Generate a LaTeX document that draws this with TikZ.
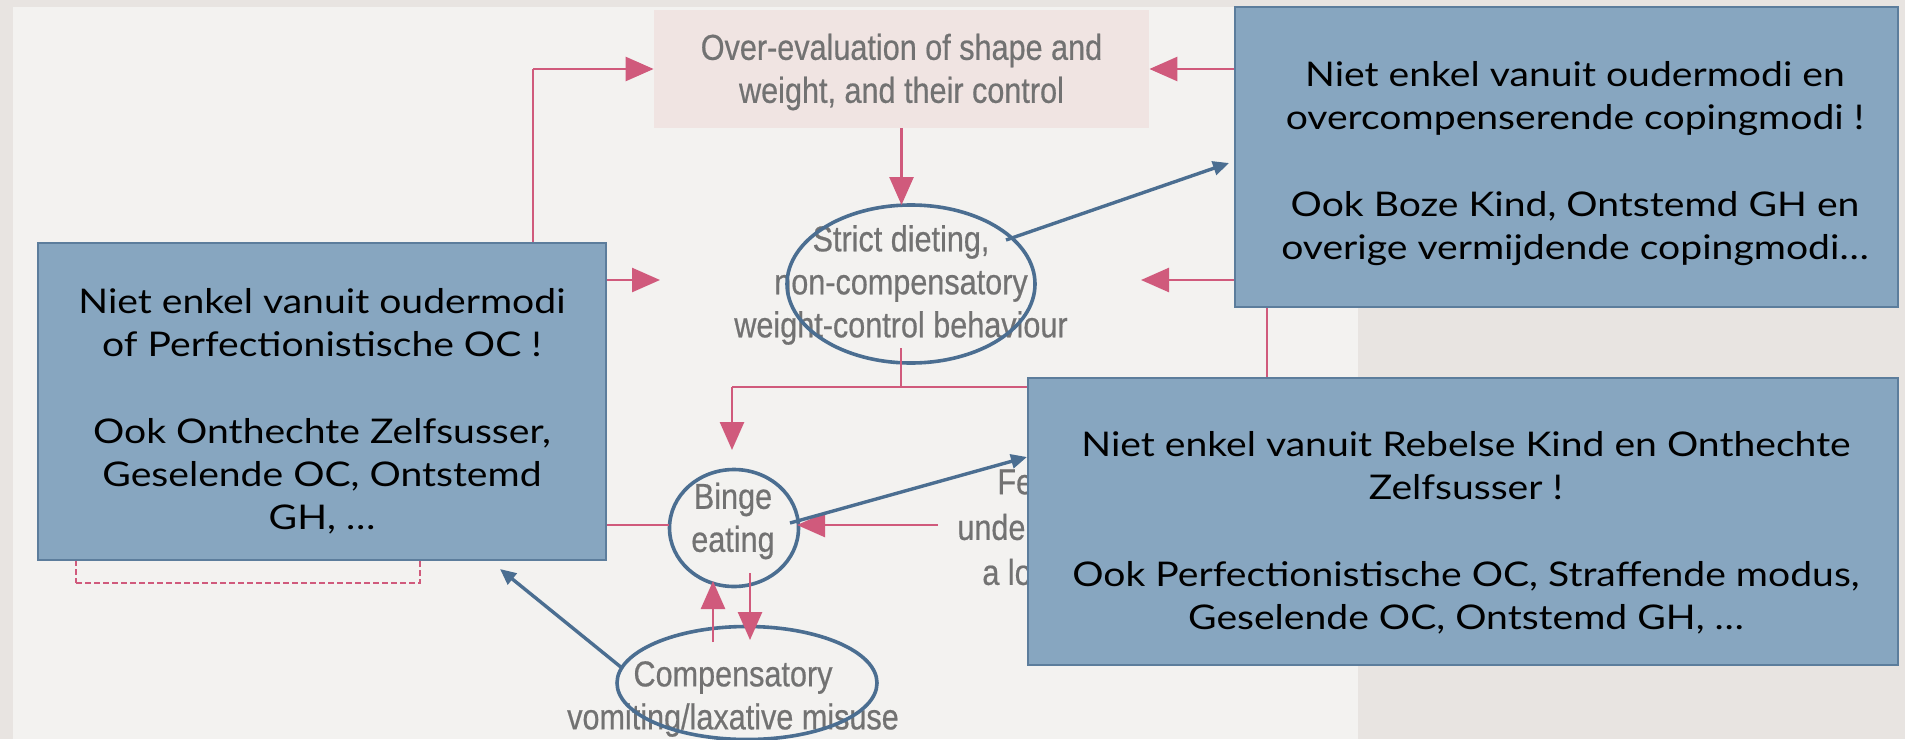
\documentclass[tikz,border=0pt]{standalone}
\usepackage{fontspec}
\setmainfont{Lato}
\newfontfamily\callfont[FakeStretch=1.15]{Lato}
\newfontfamily\condfont[FakeStretch=0.85,FakeBold=0.5]{Liberation Sans}
\usetikzlibrary{arrows.meta,shapes.geometric}
\definecolor{outerbg}{HTML}{E8E4E1}
\definecolor{innerbg}{HTML}{F3F2F0}
\definecolor{pinkbox}{HTML}{F0E4E2}
\definecolor{pinkline}{HTML}{D05A7C}
\definecolor{graytext}{HTML}{727272}
\definecolor{callfill}{HTML}{87A6C0}
\definecolor{callborder}{HTML}{5C7D9C}
\definecolor{blueline}{HTML}{4B6E91}
\begin{document}
\begin{tikzpicture}[x=0.5pt,y=-0.5pt,
 pl/.style={draw=pinkline, line width=1.3pt},
 parr/.style={pl, -{Triangle[length=14pt,width=12pt]}},
 ftext/.style={font=\condfont\fontsize{18}{21.5}\selectfont, text=graytext, align=center, inner sep=0pt},
 fpart/.style={font=\condfont\fontsize{18}{21.5}\selectfont, text=graytext, inner sep=0pt, anchor=west},
 callbox/.style={draw=callborder, line width=0.8pt, fill=callfill, inner sep=0pt},
 calltext/.style={font=\callfont\fontsize{17}{21.5}\selectfont, align=center, inner sep=0pt, text=black},
 blueell/.style={ellipse, draw=blueline, line width=1.8pt, inner sep=0pt},
 barr/.style={draw=blueline, line width=1.7pt, -{Triangle[length=8pt,width=7pt]}},
]
\useasboundingbox (0,0) rectangle (1905,739);
\fill[outerbg] (0,0) rectangle (1905,739);
\fill[innerbg] (12.5,7) rectangle (1358,739);

% flowchart
\node[fill=pinkbox, minimum width=247.5pt, minimum height=59pt, inner sep=0pt] (over) at (901.5,69) {};
\node[ftext] (overt) at (901.5,72) {Over-evaluation of shape and\\weight, and their control};
\node[ftext] (strict) at (901,285) {Strict dieting,\\non-compensatory\\weight-control behaviour};
\node[ftext] (binge) at (733,521) {Binge\\eating};
\node[ftext] (comp) at (733,699) {Compensatory\\vomiting/laxative misuse};
\node[fpart] (fe) at (997,482) {Fe};
\node[fpart] (under) at (957,527) {under};
\node[fpart] (alo) at (982,572) {a lo};
\node[draw=pinkline, dashed, dash pattern=on 3pt off 1.5pt, line width=0.8pt, minimum width=172pt, minimum height=56.5pt, inner sep=0pt] (evt) at (248,526.5) {};

% ellipses
\node[blueell, minimum width=124pt, minimum height=79pt] (e1) at (911,284) {};
\node[blueell, minimum width=64.5pt, minimum height=58.5pt] (eb) at (734,528) {};
\node[blueell, minimum width=130pt, minimum height=56.5pt] (ec) at (747,683) {};

% pink connectors
\coordinate (lt) at (533,69);
\coordinate (lm) at (533,280);
\coordinate (lb) at (533,525);
\coordinate (sl) at (660,280);
\coordinate (bw) at (669,525);
\coordinate (rt) at (1267,69);
\coordinate (rm) at (1267,280);
\coordinate (rb) at (1267,387);
\coordinate (sr) at (1141,280);
\coordinate (st) at (901.5,205);
\coordinate (sb) at (901,348);
\coordinate (jn) at (901,387);
\coordinate (bl) at (732,387);
\coordinate (bt) at (732,450);
\coordinate (fr) at (938,525);
\coordinate (be) at (797,525);
\coordinate (u1) at (713,642);
\coordinate (u2) at (713,581);
\coordinate (d1) at (750,573);
\coordinate (d2) at (750,640);

\draw[pl] (lb) -- (lt);
\draw[parr] (lt) -- (over.west);
\draw[parr] (lm) -- (sl);
\draw[pl] (lb) -- (bw);
\draw[pl] (rt) -- (rb);
\draw[parr] (rt) -- (over.east);
\draw[parr] (rm) -- (sr);
\draw[parr] (over.south) -- (st);
\draw[pl] (sb) -- (jn);
\draw[pl] (rb) -- (bl);
\draw[parr] (bl) -- (bt);
\draw[parr] (fr) -- (be);
\draw[parr] (u1) -- (u2);
\draw[parr] (d1) -- (d2);

% callouts
\node[callbox, minimum width=284pt, minimum height=158.5pt] (L) at (322,401.5) {};
\node[calltext] (Lt) at (322,411) {Niet enkel vanuit oudermodi\\of Perfectionistische OC !\\[22pt]Ook Onthechte Zelfsusser,\\Geselende OC, Ontstemd\\GH, …};
\node[callbox, minimum width=331.5pt, minimum height=150pt] (TR) at (1566.5,157) {};
\node[calltext] (TRt) at (1575,163.5) {Niet enkel vanuit oudermodi en\\overcompenserende copingmodi !\\[22pt]Ook Boze Kind, Ontstemd GH en\\overige vermijdende copingmodi…};
\node[callbox, minimum width=435pt, minimum height=143.5pt] (BR) at (1463,521.5) {};
\node[calltext] (BRt) at (1466,533) {Niet enkel vanuit Rebelse Kind en Onthechte\\Zelfsusser !\\[22pt]Ook Perfectionistische OC, Straffende modus,\\Geselende OC, Ontstemd GH, …};

% blue arrows
\coordinate (a1s) at (1006,240);
\coordinate (a1e) at (1229,163);
\coordinate (a2s) at (790,523);
\coordinate (a2e) at (1027,457);
\coordinate (a3s) at (622,668);
\coordinate (a3e) at (500,569);
\draw[barr] (a1s) -- (a1e);
\draw[barr] (a2s) -- (a2e);
\draw[barr] (a3s) -- (a3e);
\end{tikzpicture}
\end{document}
